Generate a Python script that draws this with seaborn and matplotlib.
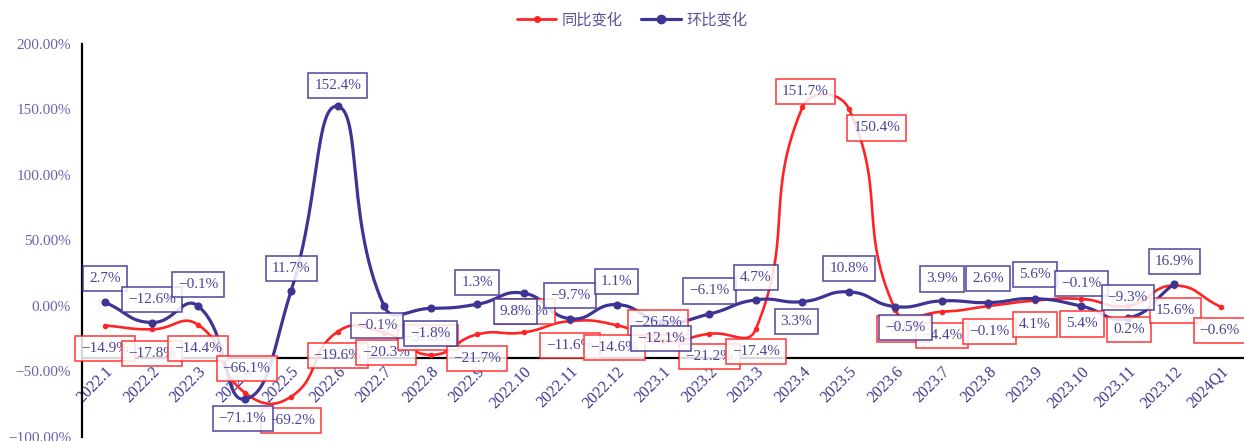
import numpy as np
import pandas as pd
import matplotlib
matplotlib.use("Agg")
import matplotlib.pyplot as plt
import seaborn as sns
from matplotlib.lines import Line2D

# ---- data -------------------------------------------------------------
periods = ["2022.1", "2022.2", "2022.3", "2022.4", "2022.5", "2022.6",
           "2022.7", "2022.8", "2022.9", "2022.10", "2022.11", "2022.12",
           "2023.1", "2023.2", "2023.3", "2023.4", "2023.5", "2023.6",
           "2023.7", "2023.8", "2023.9", "2023.10", "2023.11", "2023.12",
           "2024Q1"]

# 同比变化 (year-on-year, %)
yoy_change = [-14.9, -17.8, -14.4, -66.1, -69.2, -19.6, -20.3, -37.3, -21.7,
              -20.2, -11.6, -14.6, -26.5, -21.2, -17.4, 151.7, 150.4, -3.0,
              -4.4, -0.1, 4.1, 5.4, 0.2, 15.6, -0.6]

# 环比变化 (period-on-period, %), no value for 2024Q1
mom_change = [2.7, -12.6, -0.1, -71.1, 11.7, 152.4, -0.1, -1.8, 1.3, 9.8,
              -9.7, 1.1, -12.1, -6.1, 4.7, 3.3, 10.8, -0.5, 3.9, 2.6, 5.6,
              -0.1, -9.3, 16.9, np.nan]

y_ticks = [-100, -50, 0, 50, 100, 150, 200]

# ---- label placement (pixel offsets from each point) -----------------------
yoy_label_offsets = [(0, -23), (0, -24), (0, -24), (2, 24), (0, -24), (0, -24),
                     (2, -20), (-3, 17), (0, -24), (1, 21), (0, -24), (-2, -22),
                     (-5, 18), (0, -23), (0, -23), (3, 16), (28, -19), (8, -19),
                     (0, -24), (1, -25), (0, -24), (1, -25), (1, -24), (1, -25),
                     (-1, -24)]
mom_label_offsets = [(0, 24), (0, 23), (0, 22), (-2, -19), (0, 22), (0, 21),
                     (-7, -19), (0, -25), (0, 22), (-8, -18), (0, 23), (0, 23),
                     (-2, -17), (0, 23), (0, 22), (-6, -20), (0, 23), (10, -21),
                     (0, 22), (0, 24), (0, 24), (0, 23), (0, 21), (0, 22)]

RED = "#ff2424"
BLUE = "#3d3494"
LABEL_TEXT = "#4a4399"
YTICK_TEXT = "#6a62b0"
XTICK_TEXT = "#3d3590"
LEGEND_TEXT = "#5b5199"

sns.set_theme(style="white")
plt.rcParams["font.family"] = ["Liberation Serif", "DejaVu Serif"]

df = pd.DataFrame({"period": periods, "idx": np.arange(len(periods)),
                   "yoy": yoy_change, "mom": mom_change})

W, H = 1244, 441
fig = plt.figure(figsize=(W / 100, H / 100), dpi=100)
ax = fig.add_axes([82 / W, 4 / H, (W - 82) / W, 393 / H])
ax.set_xlim(-0.5, len(periods) - 0.5)
ax.set_ylim(-100, 200)


def smooth_curve(xs, ys, smooth=0.5, n=30):
    """Bezier smoothing computed in screen space (neighbour-weighted control points)."""
    pts = ax.transData.transform(np.column_stack([xs, ys]))
    m = len(pts)
    ctrl = []
    for i in range(m):
        cur = pts[i]
        prv = pts[i - 1] if i > 0 else cur
        nxt = pts[i + 1] if i < m - 1 else cur
        vec = nxt - prv
        d0 = np.hypot(*(cur - prv))
        d1 = np.hypot(*(nxt - cur))
        s = d0 + d1
        r0, r1 = (d0 / s, d1 / s) if s > 0 else (0.0, 0.0)
        ctrl.append((cur - vec * smooth * r0, cur + vec * smooth * r1))
    t = np.linspace(0, 1, n)[:, None]
    segs = []
    for i in range(m - 1):
        p0, p1, p2, p3 = pts[i], ctrl[i][1], ctrl[i + 1][0], pts[i + 1]
        b = ((1 - t) ** 3) * p0 + 3 * ((1 - t) ** 2) * t * p1 \
            + 3 * (1 - t) * (t ** 2) * p2 + (t ** 3) * p3
        segs.append(b if i == 0 else b[1:])
    curve = ax.transData.inverted().transform(np.vstack(segs))
    return curve[:, 0], curve[:, 1]


# lines
yoy_df = df.dropna(subset=["yoy"])
mom_df = df.dropna(subset=["mom"])
cx, cy = smooth_curve(yoy_df["idx"].to_numpy(float), yoy_df["yoy"].to_numpy(float))
ax.plot(cx, cy, color=RED, lw=1.9, zorder=3, solid_capstyle="round")
cx, cy = smooth_curve(mom_df["idx"].to_numpy(float), mom_df["mom"].to_numpy(float))
ax.plot(cx, cy, color=BLUE, lw=2.3, zorder=4, solid_capstyle="round")

# points
sns.scatterplot(data=yoy_df, x="idx", y="yoy", color=RED, s=16, linewidth=0,
                zorder=3.5, ax=ax, legend=False)
sns.scatterplot(data=mom_df, x="idx", y="mom", color=BLUE, s=34, linewidth=0,
                zorder=4.5, ax=ax, legend=False)


def add_labels(frame, col, offsets, edge, z):
    for (i, v), (dx, dy) in zip(frame[["idx", col]].itertuples(index=False), offsets):
        ax.annotate(f"{v:.1f}%".replace("-", "\u2212"), xy=(i, v),
                    xytext=(dx, dy), textcoords="offset pixels",
                    ha="center", va="center", fontsize=11, color=LABEL_TEXT,
                    zorder=z,
                    bbox=dict(boxstyle="square,pad=0.4", facecolor="white",
                              alpha=0.85, edgecolor=edge, linewidth=1.2))


add_labels(yoy_df, "yoy", yoy_label_offsets, RED, 6)
add_labels(mom_df, "mom", mom_label_offsets, BLUE, 7)

# axes styling (spine position first: moving a spine resets its ticks)
for side in ("top", "right"):
    ax.spines[side].set_visible(False)
ax.spines["left"].set_color("black")
ax.spines["left"].set_linewidth(1.6)
ax.spines["bottom"].set_color("black")
ax.spines["bottom"].set_linewidth(1.6)
ax.spines["bottom"].set_position(("data", -39.7))
ax.grid(False)

ax.set_xlabel("")
ax.set_ylabel("")
ax.set_xticks(df["idx"])
ax.set_xticklabels(periods)
for lbl in ax.get_xticklabels():
    lbl.set_rotation(45)
    lbl.set_ha("right")
    lbl.set_va("top")
    lbl.set_rotation_mode("anchor")
    lbl.set_color(XTICK_TEXT)
    lbl.set_fontsize(11.5)
ax.set_yticks(y_ticks)
ax.set_yticklabels([f"{t:.2f}%".replace("-", "\u2212") for t in y_ticks],
                   color=YTICK_TEXT, fontsize=11)
ax.tick_params(axis="x", length=0, pad=4)
ax.tick_params(axis="y", direction="in", length=4, width=1.5, color="black", pad=8)

# legend
handles = [
    Line2D([0], [0], color=RED, lw=2.0, marker="o", markersize=4),
    Line2D([0], [0], color=BLUE, lw=2.3, marker="o", markersize=6),
]
fig.legend(handles, ["同比变化", "环比变化"], loc="center",
           bbox_to_anchor=(632 / W, 1 - 20 / H), ncol=2, frameon=False,
           prop={"family": ["Noto Sans CJK SC", "DejaVu Sans"], "size": 11},
           labelcolor=LEGEND_TEXT, handlelength=2.6, handletextpad=0.35,
           columnspacing=1.2)

fig.savefig("out.png", dpi=100)
